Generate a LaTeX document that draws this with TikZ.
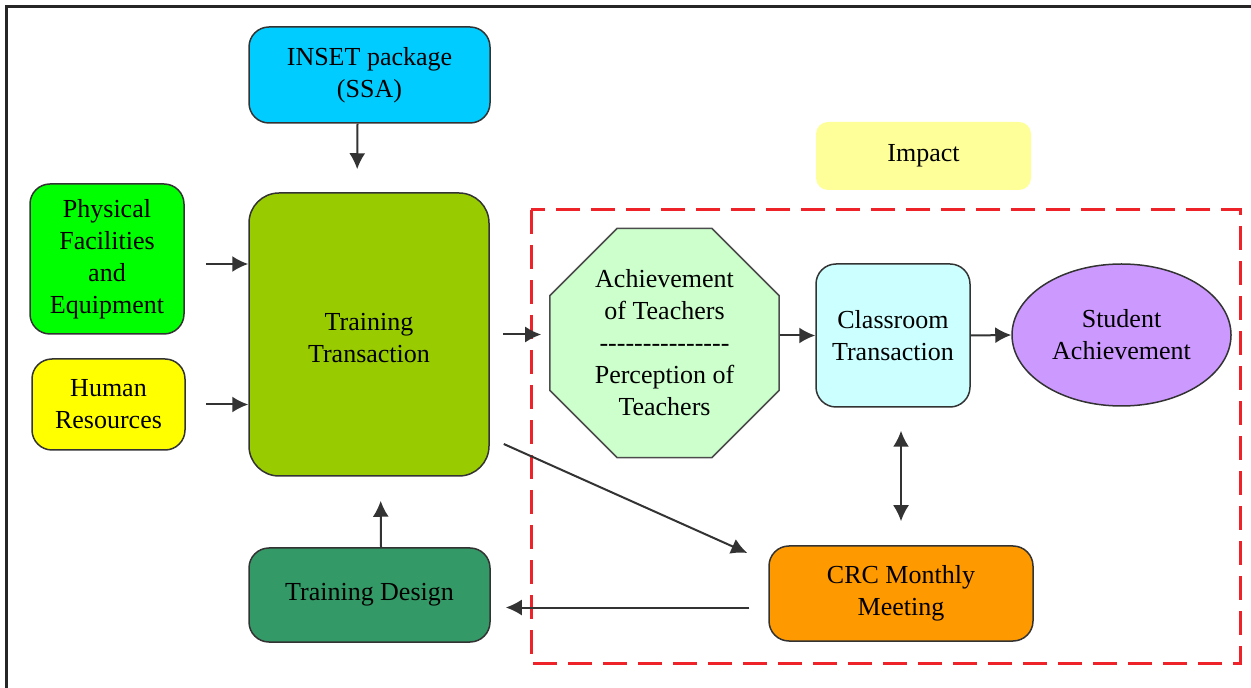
\documentclass[tikz,border=0pt]{standalone}
\usepackage{fontspec}
\setmainfont{Liberation Serif}
\usetikzlibrary{arrows.meta,shapes.geometric}

\definecolor{insetblue}{HTML}{00CCFF}
\definecolor{facgreen}{HTML}{00FF00}
\definecolor{hryellow}{HTML}{FFFF00}
\definecolor{transgreen}{HTML}{99CC00}
\definecolor{designgreen}{HTML}{339966}
\definecolor{impactyellow}{HTML}{FFFF99}
\definecolor{teachgreen}{HTML}{CCFFCC}
\definecolor{classcyan}{HTML}{CCFFFF}
\definecolor{studviolet}{HTML}{CC99FF}
\definecolor{crcorange}{HTML}{FF9900}
\definecolor{zonered}{HTML}{EE2229}

\newcommand\hyrule{-\kern0pt-\kern0pt-\kern0pt-\kern0pt-\kern0pt-\kern0pt-\kern0pt-\kern0pt-\kern0pt-\kern0pt-\kern0pt-\kern0pt-\kern0pt-\kern0pt-}

\begin{document}
\begin{tikzpicture}[x=0.5pt,y=-0.5pt,
		txt/.style={align=center, inner sep=0pt, font=\fontsize{13}{16}\selectfont},
		box/.style={txt, draw=black!80, line width=0.75pt, rounded corners=10pt},
		arr/.style={draw=black!80, line width=1pt, -{Latex[length=8pt,width=8pt]}},
		dblarr/.style={arr, {Latex[length=8pt,width=8pt]}-{Latex[length=8pt,width=8pt]}},
		zone/.style={draw=zonered, line width=1.5pt, dash pattern=on 12pt off 5.5pt}]
		\useasboundingbox (0,0) rectangle (1251,688);
		% outer frame, open at right and bottom
		\draw[line width=1.5pt, black!85] (6,688) -- (6,7) -- (1251,7);
		% impact zone
		\draw[zone] (531,210) rectangle (1240,663);
		\path
			( 369.5,  75)   node[box, fill=insetblue,  minimum width=120.5pt, minimum height=48pt]   (inset)  {INSET package\\(SSA)}
			( 107,   259)   node[box, fill=facgreen,   minimum width=77pt,    minimum height=75pt]   (phys)   {Physical\\Facilities\\and\\Equipment}
			( 108.5, 404.5) node[box, fill=hryellow,   minimum width=76.5pt,  minimum height=45.5pt] (hr)     {Human\\Resources}
			( 369,   334.5) node[box, fill=transgreen, minimum width=120pt,   minimum height=141.5pt, rounded corners=15pt] (trans) {\\[-4pt]Training\\Transaction}
			( 369.5, 595)   node[box, fill=designgreen,minimum width=120.5pt, minimum height=47pt]   (design) {Training Design}
			( 923.5, 156)   node[txt, fill=impactyellow, rounded corners=6pt, minimum width=107.5pt, minimum height=34pt] (impact) {Impact}
			( 664.5, 343)   node[txt, draw=black!70, line width=0.75pt, fill=teachgreen, regular polygon, regular polygon sides=8, minimum size=124pt] (teach)
				{Achievement\\of Teachers\\\hyrule\\Perception of\\Teachers}
			( 893,   335.5) node[box, fill=classcyan,  minimum width=77pt,    minimum height=71.5pt] (class)  {Classroom\\Transaction}
			(1121.5, 335)   node[txt, draw=black!80, line width=0.75pt, fill=studviolet, ellipse, minimum width=109.5pt, minimum height=71pt] (stud) {Student\\Achievement}
			( 901,   593.5) node[box, fill=crcorange,  minimum width=132pt,   minimum height=47.5pt] (crc)    {CRC Monthly\\Meeting}
		;
		\draw[arr, shorten >=11.5pt] ([xshift=-6pt]inset.south) -- ([xshift=-6pt]trans.north);
		\draw[arr] ([shift={(10.5pt,-2.5pt)}]phys.east) -- ([yshift=-2.5pt]trans.west |- phys.east);
		\draw[arr] ([xshift=10pt]hr.east) -- (trans.west |- hr.east);
		\draw[arr, shorten >=4pt] ([xshift=6.5pt]trans.east) -- (teach.west |- trans.east);
		\draw[arr] (teach.east |- class.west) -- (class.west);
		\draw[arr] (class.east) -- (stud.west);
		\draw[dblarr, shorten <=11.5pt, shorten >=12pt] (class.south -| crc.north) -- (crc.north);
		\draw[arr] ([shift={(7pt,-54.75pt)}]trans.east) -- ([shift={(-10.5pt,20.25pt)}]crc.west);
		\draw[arr, shorten >=7.5pt] ([shift={(-9.5pt,-7pt)}]crc.west) -- ([yshift=-7pt]design.east |- crc.west);
		\draw[arr, shorten >=12pt] ([xshift=5.75pt]design.north) -- ([xshift=5.75pt]trans.south);
	\end{tikzpicture}
\end{document}
